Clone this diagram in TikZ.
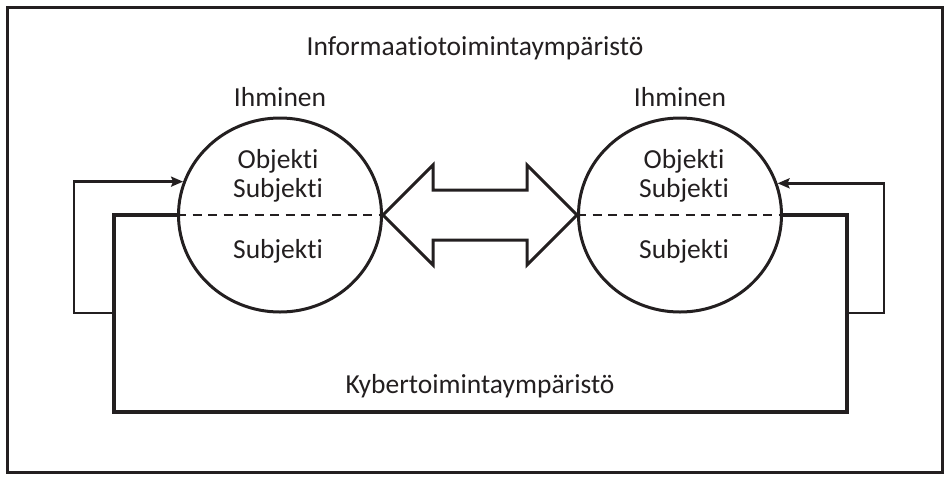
\documentclass[tikz,border=0pt]{standalone}
\usepackage{fontspec}
\setmainfont{Carlito}[Ligatures={NoCommon,NoContextual}]
\usetikzlibrary{arrows.meta,shapes.geometric}
\definecolor{ink}{HTML}{231F20}

\begin{document}
\begin{tikzpicture}[x=1pt,y=-1pt,line join=miter,
  lbl/.style={font=\fontsize{27.5}{30}\selectfont,text=ink,inner sep=0pt,anchor=base},
  human/.style={ellipse,draw=ink,line width=3pt,minimum width=203pt,minimum height=194pt,inner sep=0pt},
  frame/.style={draw=ink,line width=3.5pt},
  divider/.style={draw=ink,line width=2pt,dash pattern=on 9pt off 6.5pt},
  bigarrow/.style={draw=ink,line width=3pt},
  feedback/.style={draw=ink,line width=2.5pt,-{Stealth[length=12pt,width=10pt,inset=2pt]}},
  cyber/.style={draw=ink,line width=4pt}]

  \useasboundingbox (0,0) rectangle (950,480);
  \draw[frame] (7.5,7.5) rectangle (942.5,472.5);

  % the two people
  \node[human] (L) at (280,215) {};
  \node[human] (R) at (680,215) {};

  % dividing lines inside the circles
  \draw[divider] (L.west) -- (L.east);
  \draw[divider] (R.west) -- (R.east);

  % labels
  \node[lbl] (info) at (475,55) {Informaatiotoimintaympäristö};
  \node[lbl] (hl) at (280,106) {Ihminen};
  \node[lbl] (hr) at (680,106) {Ihminen};
  \node[lbl] (lo) at (278,168) {Objekti};
  \node[lbl] (ls1) at (278,197.5) {Subjekti};
  \node[lbl] (ls2) at (278,258.5) {Subjekti};
  \node[lbl] (ro) at (684,168) {Objekti};
  \node[lbl] (rs1) at (684,197.5) {Subjekti};
  \node[lbl] (rs2) at (684,258.5) {Subjekti};
  \node[lbl] (kyber) at (480,393) {Kybertoimintaympäristö};

  % double-headed block arrow between the circles
  \draw[bigarrow] (L.east) -- ++(50,-50) -- ++(0,25)
    -- ([xshift=-50pt,yshift=25pt]R.west)
    -- ([xshift=-50pt,yshift=50pt]R.west)
    -- (R.west)
    -- ([xshift=-50pt,yshift=-50pt]R.west)
    -- ([xshift=-50pt,yshift=-25pt]R.west)
    -- ([xshift=50pt,yshift=-25pt]L.east)
    -- ([xshift=50pt,yshift=-50pt]L.east)
    -- cycle;

  % cyber environment loop
  \coordinate (cbl) at (114,412);
  \coordinate (cbr) at (847,412);
  \coordinate (jl) at (114,313);
  \coordinate (jr) at (847,313);
  \draw[cyber] (L.west) -| (cbl) -- (cbr) |- (R.east);

  % feedback arrows
  \draw[feedback] (jl) -- ++(-40,0) |- (L.161);
  \draw[feedback] (jr) -- ++(37,0) |- (R.18);
\end{tikzpicture}
\end{document}
